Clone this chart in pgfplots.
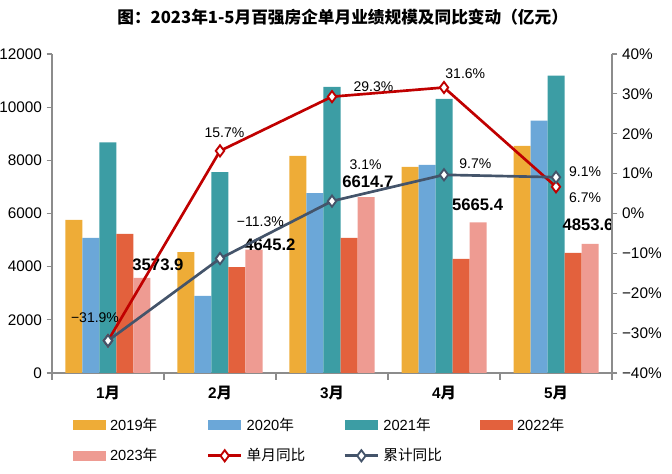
\documentclass[border=0pt]{standalone}
\usepackage{pgfplots}
\pgfplotsset{compat=1.18}
\usepackage{fontspec}
\setmainfont{Liberation Sans}
\newfontfamily\cjk{Noto Sans CJK SC}
\definecolor{c19}{HTML}{EEAC37}
\definecolor{c20}{HTML}{6BA7D8}
\definecolor{c21}{HTML}{3C9DA4}
\definecolor{c22}{HTML}{E3613D}
\definecolor{c23}{HTML}{EE9B92}
\definecolor{cred}{HTML}{C00000}
\definecolor{cgray}{HTML}{44546A}
\definecolor{axgray}{HTML}{8C8C8C}
\pgfplotsset{
  mybar/.style={ybar, bar width=12.75pt, fill=#1, draw=none,
    legend image code/.code={\fill[#1] (0pt,-3.75pt) rectangle (24.75pt,3.75pt);}},
  myline/.style={color=#1, line width=2pt, mark=diamond*, mark size=4.2pt,
    mark options={fill=white, draw=#1, line width=1.4pt},
    legend image code/.code={\draw[mark repeat=2,mark phase=2] plot coordinates {(0pt,0pt)(12.5pt,0pt)(25pt,0pt)};}},
}
\begin{document}
\begin{tikzpicture}
\begin{axis}[
  scale only axis, width=420pt, height=239.25pt,
  at={(0pt,0pt)}, anchor=south west,
  xmin=-0.5, xmax=4.5, ymin=0, ymax=12000,
  axis x line*=bottom, axis y line*=left,
  axis line style={axgray, line width=0.8pt},
  tick align=outside,
  ytick={0,2000,...,12000},
  scaled y ticks=false,
  /pgf/number format/1000 sep={},
  /pgf/number format/assume math mode=true,
  y tick style={axgray, line width=0.8pt}, major tick length=4pt,
  yticklabel style={font=\fontsize{11.5}{12}\selectfont, text=black},
  xtick={0,1,2,3,4},
  xticklabels={{1{\cjk 月}},{2{\cjk 月}},{3{\cjk 月}},{4{\cjk 月}},{5{\cjk 月}}},
  xticklabel style={font=\fontsize{11.5}{12}\selectfont\bfseries, text=black, yshift=-2pt},
  x tick style={draw=none},
  extra x ticks={-0.5,0.5,1.5,2.5,3.5,4.5},
  extra x tick labels={},
  extra x tick style={x tick style={draw=axgray, line width=0.8pt}, major tick length=5pt},
  legend columns=4,
  legend style={at={(0.03,-0.12)}, anchor=north west, draw=none, fill=none,
    font=\fontsize{11}{12}\selectfont, row sep=6pt,
    /tikz/every even column/.append style={column sep=0pt},
    nodes={text width=69.5pt, align=left, inner sep=3pt}},
  legend cell align=left,
  clip=false,
]
\addplot[mybar=c19, bar shift=-25.5pt] coordinates {(0,5760)(1,4550)(2,8165)(3,7750)(4,8540)};
\addlegendentry{2019{\cjk 年}}
\addplot[mybar=c20, bar shift=-12.75pt] coordinates {(0,5080)(1,2900)(2,6770)(3,7825)(4,9490)};
\addlegendentry{2020{\cjk 年}}
\addplot[mybar=c21, bar shift=0pt] coordinates {(0,8680)(1,7560)(2,10760)(3,10310)(4,11190)};
\addlegendentry{2021{\cjk 年}}
\addplot[mybar=c22, bar shift=12.75pt] coordinates {(0,5230)(1,3980)(2,5080)(3,4290)(4,4515)};
\addlegendentry{2022{\cjk 年}}
\addplot[mybar=c23, bar shift=25.5pt] coordinates {(0,3573.9)(1,4645.2)(2,6614.7)(3,5665.4)(4,4853.6)};
\addlegendentry{2023{\cjk 年}}
\addlegendimage{myline=cred}
\addlegendentry{{\cjk 单月同比}}
\addlegendimage{myline=cgray}
\addlegendentry{{\cjk 累计同比}}
\begin{scope}[every node/.style={font=\fontsize{12.5}{13}\selectfont\bfseries, text=black}]
\node at (axis cs:0.446,4063) {3573.9};
\node at (axis cs:1.446,4815) {4645.2};
\node at (axis cs:2.32,7200) {6614.7};
\node at (axis cs:3.30,6320) {5665.4};
\node at (axis cs:4.286,5568) {4853.6};
\end{scope}
\end{axis}
\begin{axis}[
  scale only axis, width=420pt, height=239.25pt,
  at={(0pt,0pt)}, anchor=south west,
  xmin=-0.5, xmax=4.5, ymin=-40, ymax=40,
  axis x line=none, axis y line*=right,
  axis line style={axgray, line width=0.8pt},
  tick align=outside,
  ytick={-40,-30,-20,-10,0,10,20,30,40},
  yticklabels={−40\%,−30\%,−20\%,−10\%,0\%,10\%,20\%,30\%,40\%},
  y tick style={axgray, line width=0.8pt}, major tick length=4pt,
  yticklabel style={font=\fontsize{11.5}{12}\selectfont, text=black},
  clip=false,
]
\addplot[myline=cred] coordinates {(0,-31.9)(1,15.7)(2,29.3)(3,31.6)(4,6.7)};
\addplot[myline=cgray] coordinates {(0,-31.9)(1,-11.3)(2,3.1)(3,9.7)(4,9.1)};
\begin{scope}[every node/.style={font=\fontsize{10.5}{11}\selectfont, text=black}]
\node at (axis cs:-0.116,-26.2) {−31.9\%};
\node at (axis cs:1.04,20.2) {15.7\%};
\node at (axis cs:2.37,31.7) {29.3\%};
\node at (axis cs:3.19,35.0) {31.6\%};
\node at (axis cs:4.26,3.9) {6.7\%};
\node at (axis cs:1.36,-2.1) {−11.3\%};
\node at (axis cs:2.30,12.2) {3.1\%};
\node at (axis cs:3.28,12.4) {9.7\%};
\node at (axis cs:4.26,10.4) {9.1\%};
\end{scope}
\end{axis}
\node[font=\fontsize{12.5}{13}\selectfont\bfseries\cjk, anchor=center] at (218pt,266.5pt) {图：2023年1-5月百强房企单月业绩规模及同比变动（亿元）};
\pgfresetboundingbox
\path[use as bounding box] (-39pt,-75.75pt) rectangle (465pt,279.75pt);
\end{tikzpicture}
\end{document}
